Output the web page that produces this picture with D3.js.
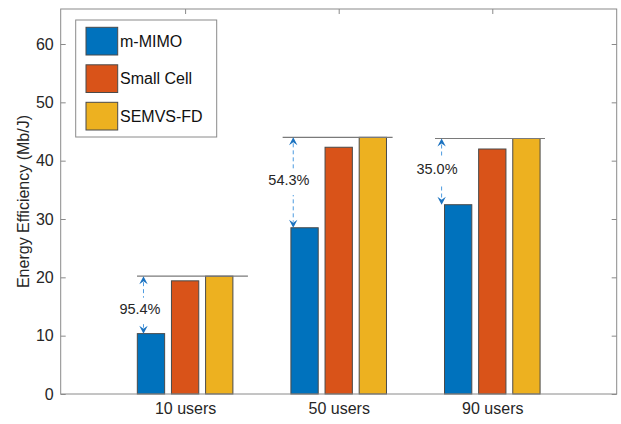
<!DOCTYPE html>
<html>
<head>
<meta charset="utf-8">
<script src="https://cdn.jsdelivr.net/npm/d3@7"></script>
<style>
  body { margin: 0; background: #fff; }
  svg { display: block; font-family: "Liberation Sans", Arial, sans-serif; }
</style>
</head>
<body>
<svg id="chart" width="621" height="424"></svg>
<script>
// data
var categories = ["10 users", "50 users", "90 users"];
var seriesNames = ["m-MIMO", "Small Cell", "SEMVS-FD"];
var mMIMO = [10.35, 28.5, 32.45];
var smallCell = [19.4, 42.3, 42.0];
var semvsFD = [20.2, 44.0, 43.8];
var yTicks = [0, 10, 20, 30, 40, 50, 60];

// gain annotations (x in category units, y in Mb/J)
var gainLabels = ["95.4%", "54.3%", "35.0%"];
var refLineStart = [0.687, 1.635, 2.627];
var refLineEnd = [1.409, 2.351, 3.343];
var arrowX = [0.729, 1.704, 2.670];
var labelX = [0.706, 1.676, 2.640];
var labelY = [13.77, 35.83, 37.7];

var colors = ["#0072BD", "#D95319", "#EDB120"];
var values = [mMIMO, smallCell, semvsFD];

var svg = d3.select("#chart");
var pLeft = 60.7, pRight = 616.7, pTop = 9, pBottom = 394;

var x = d3.scaleLinear().domain([0.19, 3.81]).range([pLeft, pRight]);
var y = d3.scaleLinear().domain([0, 66]).range([pBottom, pTop]);

var pitch = 0.6667 / 3, barW = pitch * 0.8;

// bars
var g = svg.append("g");
values.forEach(function(vals, s) {
  g.selectAll(".bar" + s)
    .data(vals)
    .enter().append("rect")
      .attr("x", (d, i) => x(i + 1 + (s - 1) * pitch - barW / 2))
      .attr("width", x(barW) - x(0))
      .attr("y", d => y(d))
      .attr("height", d => y(0) - y(d))
      .attr("fill", colors[s])
      .attr("stroke", "#4a4a4a")
      .attr("stroke-width", 1);
});

// reference lines at SEMVS-FD level
g.selectAll(".ref")
  .data(semvsFD)
  .enter().append("line")
    .attr("x1", (d, i) => x(refLineStart[i]))
    .attr("x2", (d, i) => x(refLineEnd[i]))
    .attr("y1", d => y(d)).attr("y2", d => y(d))
    .attr("stroke", "#7a7a7a")
    .attr("stroke-width", 1.1);

// axes box
var axisColor = "#8a8a8a";
svg.append("rect")
  .attr("x", pLeft).attr("y", pTop)
  .attr("width", pRight - pLeft).attr("height", pBottom - pTop)
  .attr("fill", "none").attr("stroke", axisColor).attr("stroke-width", 1);

var yAxisL = svg.append("g")
  .attr("transform", "translate(" + pLeft + ",0)")
  .call(d3.axisLeft(y).tickValues(yTicks).tickSizeInner(-5).tickSizeOuter(0).tickPadding(7));
var yAxisR = svg.append("g")
  .attr("transform", "translate(" + pRight + ",0)")
  .call(d3.axisRight(y).tickValues(yTicks).tickSizeInner(-5).tickSizeOuter(0).tickFormat(""));
var xAxisT = svg.append("g")
  .attr("transform", "translate(0," + pTop + ")")
  .call(d3.axisTop(x).tickValues([1, 2, 3]).tickSizeInner(-5).tickSizeOuter(0).tickFormat(""));
var xAxisB = svg.append("g")
  .attr("transform", "translate(0," + pBottom + ")")
  .call(d3.axisBottom(x).tickValues([1, 2, 3]).tickSizeInner(0).tickSizeOuter(0).tickPadding(9)
    .tickFormat((d, i) => categories[i]));

[yAxisL, yAxisR, xAxisT, xAxisB].forEach(function(a) {
  a.select(".domain").remove();
  a.selectAll(".tick line").attr("stroke", axisColor);
  a.selectAll(".tick text")
    .attr("fill", "#262626")
    .style("font-size", "16px")
    .style("font-family", "'Liberation Sans', Arial, sans-serif");
});

// y label
svg.append("text")
  .attr("transform", "translate(29," + ((pTop + pBottom) / 2) + ") rotate(-90)")
  .attr("text-anchor", "middle")
  .attr("fill", "#262626")
  .style("font-size", "16px")
  .text("Energy Efficiency (Mb/J)");

// double arrows + labels
var arrowDash = "#4d9be0", arrowHead = "#1a72c0";
function head(px, py, dir) {
  // dir = -1 pointing up, +1 pointing down
  var L = 8, W = 4.2, n = 3;
  return "M" + px + "," + py +
    "L" + (px - W) + "," + (py - dir * L) +
    "L" + px + "," + (py - dir * (L - n)) +
    "L" + (px + W) + "," + (py - dir * L) + "Z";
}
var ann = svg.append("g");
gainLabels.forEach(function(lbl, i) {
  var ax = x(arrowX[i]);
  var yt = y(semvsFD[i]), yb = y(mMIMO[i]);
  ann.append("line")
    .attr("x1", ax).attr("x2", ax)
    .attr("y1", yt + 6).attr("y2", yb - 6)
    .attr("stroke", arrowDash)
    .attr("stroke-width", 1)
    .attr("stroke-dasharray", "4,3");
  ann.append("path").attr("d", head(ax, yt, -1)).attr("fill", arrowHead);
  ann.append("path").attr("d", head(ax, yb, 1)).attr("fill", arrowHead);

  var tx = x(labelX[i]), ty = y(labelY[i]);
  var t = ann.append("text")
    .attr("x", tx).attr("y", ty)
    .attr("text-anchor", "middle")
    .attr("fill", "#262626")
    .style("font-size", "14.5px")
    .text(lbl);
  var bb = t.node().getBBox();
  ann.insert("rect", function() { return t.node(); })
    .attr("x", bb.x - 1).attr("y", ty - 16)
    .attr("width", bb.width + 2).attr("height", 26)
    .attr("fill", "#fff");
});

// legend
var leg = svg.append("g");
leg.append("rect")
  .attr("x", 75.7).attr("y", 20)
  .attr("width", 141).attr("height", 117)
  .attr("fill", "#fff").attr("stroke", axisColor).attr("stroke-width", 1);
var rows = leg.selectAll(".row")
  .data(seriesNames)
  .enter().append("g")
    .attr("transform", (d, i) => "translate(86," + (27.3 + i * 37.5) + ")");
rows.append("rect")
  .attr("width", 31.7).attr("height", 27.7)
  .attr("fill", (d, i) => colors[i])
  .attr("stroke", "#4a4a4a").attr("stroke-width", 1);
rows.append("text")
  .attr("x", 34).attr("y", 14)
  .attr("dy", "0.35em")
  .attr("fill", "#111")
  .style("font-size", "16px")
  .text(d => d);
</script>
</body>
</html>
